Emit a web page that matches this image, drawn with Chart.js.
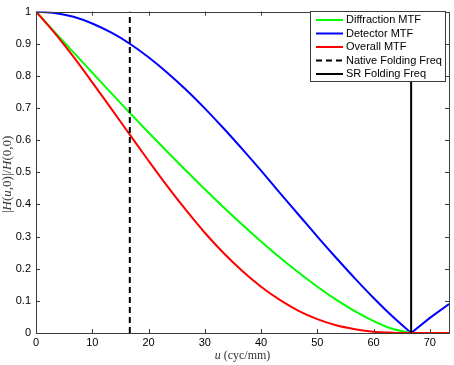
<!DOCTYPE html>
<html>
<head>
<meta charset="utf-8">
<script src="https://cdn.jsdelivr.net/npm/chart.js@4/dist/chart.umd.min.js"></script>
<style>
  html, body { margin: 0; padding: 0; background: #fff; }
  #mtfChart { display: block; }
</style>
</head>
<body>
<canvas id="mtfChart" width="454" height="365"></canvas>
<script>
// spatial frequency samples (cyc/mm)
const uMain = [0, 3.33, 6.67, 10, 13.33, 16.67, 20, 23.33, 26.67, 30, 33.33, 36.67, 40, 43.33, 46.67, 50, 53.33, 56.67, 60, 63.33, 66.67];
const uTail = [66.67, 70, 73.4];

// MTF curves
const diffractionMTF = [1, 0.936, 0.873, 0.810, 0.747, 0.685, 0.624, 0.564, 0.505, 0.447, 0.391, 0.337, 0.285, 0.235, 0.188, 0.144, 0.104, 0.068, 0.037, 0.013, 0];
const detectorMTF = [1, 0.996, 0.984, 0.963, 0.935, 0.900, 0.858, 0.810, 0.757, 0.699, 0.637, 0.572, 0.505, 0.436, 0.368, 0.300, 0.234, 0.170, 0.109, 0.052, 0];
const overallMTF = [1, 0.933, 0.859, 0.780, 0.699, 0.617, 0.536, 0.457, 0.382, 0.312, 0.249, 0.193, 0.144, 0.103, 0.069, 0.043, 0.024, 0.012, 0.004, 0.001, 0];
const detectorTail = [0, 0.047, 0.090];
const overallTail = [0, 0, 0];

// folding frequencies
const nativeFolding = 16.67;
const srFolding = 66.67;

const xTicks = [0, 10, 20, 30, 40, 50, 60, 70];
const yTicks = [0, 0.1, 0.2, 0.3, 0.4, 0.5, 0.6, 0.7, 0.8, 0.9, 1];

const legendItems = [
  { label: 'Diffraction MTF', color: '#00ff00', dash: [] },
  { label: 'Detector MTF', color: '#0000ff', dash: [] },
  { label: 'Overall MTF', color: '#ff0000', dash: [] },
  { label: 'Native Folding Freq', color: '#000000', dash: [6, 4] },
  { label: 'SR Folding Freq', color: '#000000', dash: [] }
];

function toPoints(xs, ys) {
  return xs.map((x, i) => ({ x: x, y: ys[i] }));
}

function vline(x) {
  return [{ x: x, y: 0 }, { x: x, y: 1 }];
}

// box, inward ticks, axis titles and legend, MATLAB style
const matlabFrame = {
  id: 'matlabFrame',
  afterDatasetsDraw(chart) {
    const ctx = chart.ctx;
    const a = chart.chartArea;
    const xs = chart.scales.x;
    const ys = chart.scales.y;
    ctx.save();
    ctx.strokeStyle = '#3c3c3c';
    ctx.lineWidth = 1;
    ctx.strokeRect(Math.round(a.left) + 0.5, Math.round(a.top) + 0.5,
      Math.round(a.right - a.left), Math.round(a.bottom - a.top));
    ctx.beginPath();
    xTicks.forEach(v => {
      const px = Math.round(xs.getPixelForValue(v)) + 0.5;
      ctx.moveTo(px, a.bottom); ctx.lineTo(px, a.bottom - 4);
      ctx.moveTo(px, a.top); ctx.lineTo(px, a.top + 4);
    });
    yTicks.forEach(v => {
      const py = Math.round(ys.getPixelForValue(v)) + 0.5;
      ctx.moveTo(a.left, py); ctx.lineTo(a.left + 4, py);
      ctx.moveTo(a.right, py); ctx.lineTo(a.right - 4, py);
    });
    ctx.stroke();

    // legend
    const bx = 310.5, by = 11.5, bw = 135, bh = 70;
    ctx.fillStyle = '#fff';
    ctx.fillRect(bx, by, bw, bh);
    ctx.strokeStyle = '#3c3c3c';
    ctx.strokeRect(bx, by, bw, bh);
    ctx.font = '11px "Liberation Sans", Arial, sans-serif';
    ctx.textBaseline = 'middle';
    ctx.textAlign = 'left';
    legendItems.forEach((item, i) => {
      const y = 20 + i * 13.5;
      ctx.beginPath();
      ctx.setLineDash(item.dash);
      ctx.strokeStyle = item.color;
      ctx.lineWidth = 2;
      ctx.moveTo(316, y); ctx.lineTo(343, y);
      ctx.stroke();
      ctx.setLineDash([]);
      ctx.fillStyle = '#000';
      ctx.fillText(item.label, 346, y);
    });

    // axis titles with italic symbols
    drawMixed(ctx, [['u', true], [' (cyc/mm)', false]], (a.left + a.right) / 2, 356, 0, 12);
    drawMixed(ctx, [['|', false], ['H', true], ['(', false], ['u', true], [',0)|/', false], ['H', true], ['(0,0)', false]],
      8, (a.top + a.bottom) / 2 + 2, -Math.PI / 2, 13);
    ctx.restore();
  }
};

function drawMixed(ctx, parts, cx, cy, angle, size) {
  const fontFor = it => (it ? 'italic ' : '') + size + 'px "Liberation Serif", "Times New Roman", serif';
  let total = 0;
  parts.forEach(p => { ctx.font = fontFor(p[1]); total += ctx.measureText(p[0]).width; });
  ctx.save();
  ctx.translate(cx, cy);
  ctx.rotate(angle);
  ctx.fillStyle = '#333';
  ctx.textBaseline = 'middle';
  ctx.textAlign = 'left';
  let x = -total / 2;
  parts.forEach(p => {
    ctx.font = fontFor(p[1]);
    ctx.fillText(p[0], x, 0);
    x += ctx.measureText(p[0]).width;
  });
  ctx.restore();
}

const lineBase = { pointRadius: 0, borderWidth: 2, fill: false };

new Chart(document.getElementById('mtfChart').getContext('2d'), {
  type: 'line',
  data: {
    datasets: [
      Object.assign({ label: 'SR Folding Freq', data: vline(srFolding), borderColor: '#000', tension: 0 }, lineBase),
      Object.assign({ label: 'Native Folding Freq', data: vline(nativeFolding), borderColor: '#000', borderDash: [6, 4], tension: 0 }, lineBase),
      Object.assign({ label: 'Overall MTF', data: toPoints(uMain, overallMTF), borderColor: '#ff0000', cubicInterpolationMode: 'monotone' }, lineBase),
      Object.assign({ label: 'Overall tail', data: toPoints(uTail, overallTail), borderColor: '#ff0000', tension: 0 }, lineBase),
      Object.assign({ label: 'Diffraction MTF', data: toPoints(uMain, diffractionMTF), borderColor: '#00ff00', cubicInterpolationMode: 'monotone' }, lineBase),
      Object.assign({ label: 'Detector MTF', data: toPoints(uMain, detectorMTF), borderColor: '#0000ff', cubicInterpolationMode: 'monotone' }, lineBase),
      Object.assign({ label: 'Detector tail', data: toPoints(uTail, detectorTail), borderColor: '#0000ff', tension: 0 }, lineBase)
    ]
  },
  options: {
    responsive: false,
    animation: false,
    layout: { padding: { top: 7, right: 5, left: 0, bottom: 0 } },
    plugins: { legend: { display: false }, tooltip: { enabled: false } },
    scales: {
      x: {
        type: 'linear',
        min: 0,
        max: 73.4,
        grid: { display: false, drawTicks: false, tickLength: 0 },
        border: { display: false },
        afterFit: s => { s.height = 32; },
        afterBuildTicks: s => { s.ticks = xTicks.map(v => ({ value: v })); },
        ticks: {
          color: '#000',
          padding: 3,
          maxRotation: 0,
          font: { family: '"Liberation Sans", Arial, sans-serif', size: 11 },
          callback: v => String(v)
        }
      },
      y: {
        type: 'linear',
        min: 0,
        max: 1,
        grid: { display: false, drawTicks: false, tickLength: 0 },
        border: { display: false },
        afterFit: s => { s.width = 36; },
        afterBuildTicks: s => { s.ticks = yTicks.map(v => ({ value: v })); },
        ticks: {
          color: '#000',
          padding: 5,
          font: { family: '"Liberation Sans", Arial, sans-serif', size: 11 },
          callback: v => String(v)
        }
      }
    }
  },
  plugins: [matlabFrame]
});
</script>
</body>
</html>
